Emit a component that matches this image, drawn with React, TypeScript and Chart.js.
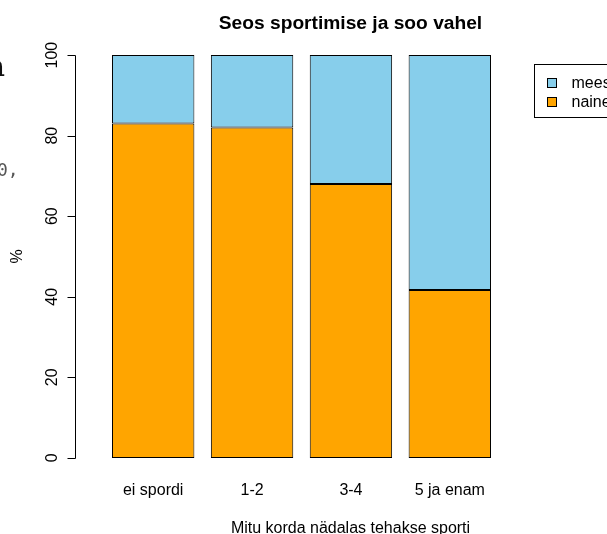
import React, { useEffect, useRef } from "react";
import { Chart, registerables } from "chart.js";

Chart.register(...registerables);

const categories = ["ei spordi", "1-2", "3-4", "5 ja enam"];
const naine = [83.0, 82.0, 68.0, 41.7];
const mees = [17.0, 18.0, 32.0, 58.3];
const yTicks = [0, 20, 40, 60, 80, 100];
const seriesNames = ["mees", "naine"];
const titleText = "Seos sportimise ja soo vahel";
const xLabel = "Mitu korda nädalas tehakse sporti";
const yLabel = "%";

const FONT = "'Liberation Sans', Arial, Helvetica, sans-serif";
const SKY = "#87CEEB";
const ORANGE = "#FFA500";

const decorPlugin = {
  id: "rdecor",
  afterDraw(chart: any) {
    const ctx = chart.ctx as CanvasRenderingContext2D;
    const y = chart.scales.y;
    const x = chart.scales.x;
    const ca = chart.chartArea;
    ctx.save();
    ctx.fillStyle = "#000";
    ctx.strokeStyle = "#000";
    ctx.lineWidth = 1;

    // y axis
    const axX = 75.5;
    const y0 = Math.round(y.getPixelForValue(yTicks[0])) + 0.5;
    const y1 = Math.round(y.getPixelForValue(yTicks[yTicks.length - 1])) + 0.5;
    ctx.beginPath();
    ctx.moveTo(axX, y0);
    ctx.lineTo(axX, y1);
    for (const t of yTicks) {
      const py = Math.round(y.getPixelForValue(t)) + 0.5;
      ctx.moveTo(axX, py);
      ctx.lineTo(axX - 8, py);
    }
    ctx.stroke();
    ctx.font = `16px ${FONT}`;
    ctx.textAlign = "center";
    ctx.textBaseline = "alphabetic";
    for (const t of yTicks) {
      const py = y.getPixelForValue(t);
      ctx.save();
      ctx.translate(57, py);
      ctx.rotate(-Math.PI / 2);
      ctx.fillText(String(t), 0, 0);
      ctx.restore();
    }

    // y label
    ctx.save();
    ctx.translate(21.5, (ca.top + ca.bottom) / 2);
    ctx.rotate(-Math.PI / 2);
    ctx.fillText(yLabel, 0, 0);
    ctx.restore();

    // category labels
    categories.forEach((c, i) => {
      ctx.fillText(c, x.getPixelForValue(i), 495);
    });

    // x label
    ctx.fillText(xLabel, 350.5, 533);

    // title
    ctx.font = `bold 19.2px ${FONT}`;
    ctx.fillText(titleText, 350.5, 29);

    // legend
    ctx.lineWidth = 1;
    ctx.strokeRect(534.5, 64.5, 120, 53);
    const legColors = [SKY, ORANGE];
    seriesNames.forEach((n, i) => {
      const cy = 82.5 + i * 19.2;
      ctx.fillStyle = legColors[i];
      ctx.fillRect(547.5, Math.round(cy - 4.5) + 0.5, 9, 9);
      ctx.strokeStyle = "#000";
      ctx.strokeRect(547.5, Math.round(cy - 4.5) + 0.5, 9, 9);
      ctx.fillStyle = "#000";
      ctx.font = `16px ${FONT}`;
      ctx.textAlign = "left";
      ctx.textBaseline = "middle";
      ctx.fillText(n, 571.5, cy + 1);
    });

    // fragments of surrounding page visible at the left edge
    ctx.fillStyle = "#111";
    ctx.font = `bold 30px 'DejaVu Serif', serif`;
    ctx.textAlign = "right";
    ctx.textBaseline = "alphabetic";
    ctx.fillText("a", 5, 76);
    ctx.fillStyle = "#555";
    ctx.font = `18px 'DejaVu Sans Mono', monospace`;
    ctx.textAlign = "left";
    ctx.fillText("0,", -3, 176);

    ctx.restore();
  },
};

export default function App() {
  const ref = useRef<HTMLCanvasElement | null>(null);
  useEffect(() => {
    document.body.style.margin = "0";
    document.body.style.background = "#fff";
    const canvas = ref.current!;
    const chart = new Chart(canvas, {
      type: "bar",
      data: {
        labels: categories,
        datasets: [
          {
            label: "naine",
            data: naine,
            backgroundColor: ORANGE,
            borderColor: "#000",
            borderWidth: 1,
            borderSkipped: false,
            categoryPercentage: 1,
            barPercentage: 1 / 1.2,
          },
          {
            label: "mees",
            data: mees,
            backgroundColor: SKY,
            borderColor: "#000",
            borderWidth: 1,
            borderSkipped: false,
            categoryPercentage: 1,
            barPercentage: 1 / 1.2,
          },
        ],
      },
      options: {
        responsive: false,
        animation: false,
        devicePixelRatio: 1,
        layout: { padding: { left: 103.75, right: 607 - 499.25, top: 39, bottom: 534 - 474 } },
        plugins: {
          legend: { display: false },
          title: { display: false },
          tooltip: { enabled: false },
        },
        scales: {
          x: { display: false, stacked: true, offset: true, grid: { display: false } },
          y: { display: false, stacked: true, min: -4, max: 104, grid: { display: false } },
        },
      },
      plugins: [decorPlugin],
    });
    return () => chart.destroy();
  }, []);
  return (
    <div style={{ position: "fixed", left: 0, top: 0, width: 607, height: 534, background: "#fff" }}>
      <canvas ref={ref} width={607} height={534} style={{ display: "block" }} />
    </div>
  );
}
